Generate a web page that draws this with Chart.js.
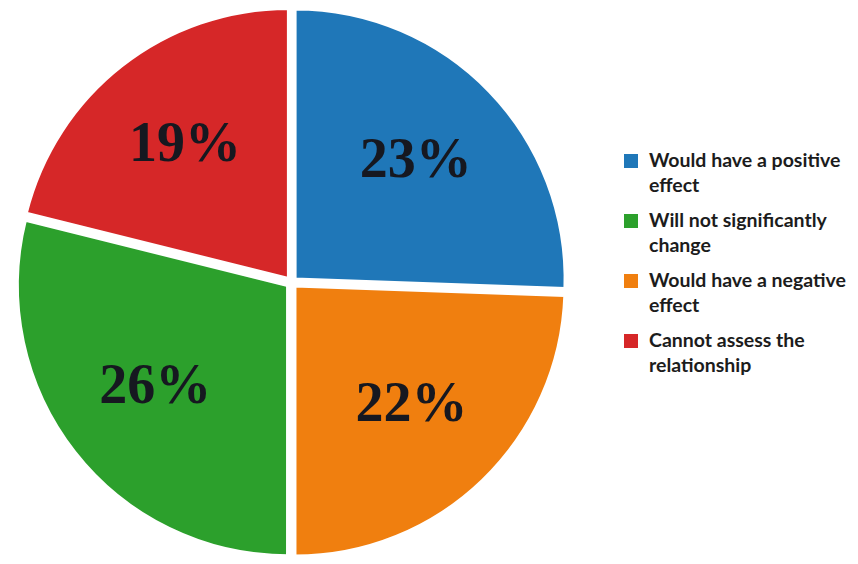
<!DOCTYPE html>
<html>
<head>
<meta charset="utf-8">
<script src="https://cdn.jsdelivr.net/npm/chart.js@4.4.1/dist/chart.umd.min.js"></script>
<style>
  html, body { margin: 0; padding: 0; background: #ffffff; }
  #wrap { position: relative; width: 858px; height: 564px; overflow: hidden; }
  #pieBox { position: absolute; left: 0; top: 0; width: 582px; height: 564px; }
  #legend { position: absolute; left: 624px; top: 147px; width: 234px;
    font-family: Lato, "Open Sans", sans-serif; font-weight: bold; font-size: 19.5px;
    color: #1c1c1c; line-height: 25px; }
  .item { display: flex; align-items: flex-start; margin-bottom: 10px; }
  .swatch { width: 14px; height: 14px; flex: none; margin: 7px 11px 0 0; }
</style>
</head>
<body>
<div id="wrap">
  <div id="pieBox"><canvas id="pie"></canvas></div>
  <div id="legend"></div>
</div>
<script>
// survey answers, clockwise from 12 o'clock
const categories = [
  'Would have a positive effect',
  'Would have a negative effect',
  'Will not significantly change',
  'Cannot assess the relationship'
];
const shares = [23, 22, 26, 19];
const sliceColors = ['#1f77b8', '#f07f0f', '#2ca02c', '#d62728'];
// legend lists the answers in a different order than the slices
const legendOrder = [0, 2, 1, 3];
const legendLines = [
  ['Would have a positive', 'effect'],
  ['Would have a negative', 'effect'],
  ['Will not significantly', 'change'],
  ['Cannot assess the', 'relationship']
];

// percent text inside each slice
const sliceLabels = {
  id: 'sliceLabels',
  afterDatasetsDraw(chart) {
    const ctx = chart.ctx;
    const meta = chart.getDatasetMeta(0);
    ctx.save();
    ctx.font = 'bold 56px "Liberation Serif", "DejaVu Serif", serif';
    ctx.fillStyle = '#161820';
    ctx.textAlign = 'center';
    ctx.textBaseline = 'middle';
    meta.data.forEach((arc, i) => {
      const p = arc.getProps(['x', 'y', 'startAngle', 'endAngle', 'outerRadius'], true);
      const mid = (p.startAngle + p.endAngle) / 2;
      const r = p.outerRadius * 0.64;
      ctx.fillText(shares[i] + '%', p.x + Math.cos(mid) * r, p.y + Math.sin(mid) * r);
    });
    ctx.restore();
  }
};

new Chart(document.getElementById('pie'), {
  type: 'pie',
  data: {
    labels: categories,
    datasets: [{
      data: shares,
      backgroundColor: sliceColors,
      borderColor: '#ffffff',
      borderWidth: 3,
      offset: 20 // drawn as offset / 4, so slices pull out by 5px
    }]
  },
  options: {
    responsive: true,
    maintainAspectRatio: false,
    animation: false,
    layout: { padding: { left: 10, right: 9, top: 1, bottom: 0 } },
    plugins: {
      legend: { display: false },
      tooltip: { enabled: false }
    }
  },
  plugins: [sliceLabels]
});

// legend on the right
const legendEl = document.getElementById('legend');
legendOrder.forEach(i => {
  const item = document.createElement('div');
  item.className = 'item';
  const sw = document.createElement('div');
  sw.className = 'swatch';
  sw.style.background = sliceColors[i];
  const txt = document.createElement('div');
  txt.innerHTML = legendLines[i].join('<br>');
  item.appendChild(sw);
  item.appendChild(txt);
  legendEl.appendChild(item);
});
</script>
</body>
</html>
